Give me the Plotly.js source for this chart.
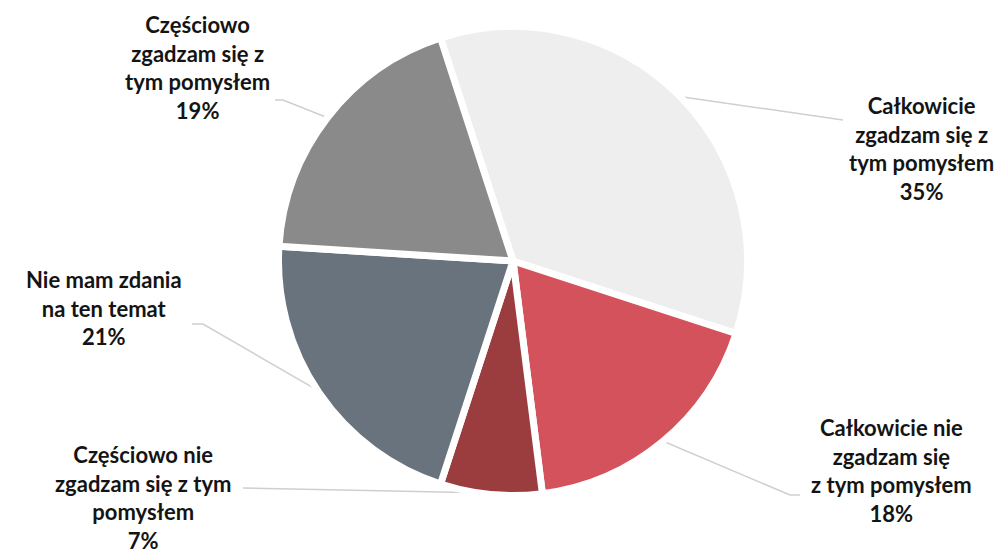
<!DOCTYPE html>
<html>
<head>
<meta charset="utf-8">
<script src="https://cdn.plot.ly/plotly-3.0.1.min.js"></script>
<style>html,body{margin:0;padding:0;background:#fff;}#chart{width:1000px;height:553px;}</style>
</head>
<body>
<div id="chart"></div>
<script>
// ---- data ----
const categories = [
  "Całkowicie zgadzam się z tym pomysłem",
  "Całkowicie nie zgadzam się z tym pomysłem",
  "Częściowo nie zgadzam się z tym pomysłem",
  "Nie mam zdania na ten temat",
  "Częściowo zgadzam się z tym pomysłem"
];
const labelLines = [
  ["Całkowicie", "zgadzam się z", "tym pomysłem"],
  ["Całkowicie nie", "zgadzam się", "z tym pomysłem"],
  ["Częściowo nie", "zgadzam się z tym", "pomysłem"],
  ["Nie mam zdania", "na ten temat"],
  ["Częściowo", "zgadzam się z", "tym pomysłem"]
];
const values = [35, 18, 7, 21, 19];
const colors = ["#EEEEEE", "#D3525B", "#9B3C3F", "#68737E", "#8A8A8A"];

// ---- layout config (pixels) ----
const W = 1000, H = 553;
const CX = 513, CY = 261, R = 234.5;     // pie geometry
const ROT = -18;                          // start angle (deg from 12 o'clock)
const LEAD_R = 233;                       // where leader lines start
// label block centers and leader-line bend points (px)
const labelPos = [[921, 148.5], [891, 470], [143, 497.5], [104, 307.5], [197, 67.5]];
const leaderPts = [
  [[843, 120]],
  [[790, 495], [800, 495]],
  [[243, 488]],
  [[203, 324], [192, 324]],
  [[283, 100], [275, 100]]
];

const px = x => x / W;
const py = y => 1 - y / H;

const total = values.reduce((a, b) => a + b, 0);
const annotations = [];
const shapes = [];
let cum = 0;
values.forEach((v, i) => {
  const mid = (ROT + (cum + v / 2) / total * 360) * Math.PI / 180;
  cum += v;
  const sx = CX + LEAD_R * Math.sin(mid), sy = CY - LEAD_R * Math.cos(mid);
  let path = `M ${px(sx)} ${py(sy)}`;
  leaderPts[i].forEach(p => { path += ` L ${px(p[0])} ${py(p[1])}`; });
  shapes.push({type: 'path', xref: 'paper', yref: 'paper', path: path,
    line: {color: '#CFCFCF', width: 1.5}, layer: 'below'});
  const pct = Math.round(v / total * 100) + '%';
  annotations.push({
    xref: 'paper', yref: 'paper', x: px(labelPos[i][0]), y: py(labelPos[i][1]),
    xanchor: 'center', yanchor: 'middle', align: 'center', showarrow: false,
    text: labelLines[i].concat([pct]).join('<br>'),
    font: {family: 'Lato, "Open Sans", sans-serif', size: 22, color: '#141414', weight: 700}
  });
});

const trace = {
  type: 'pie',
  labels: categories,
  values: values,
  sort: false,
  direction: 'clockwise',
  rotation: ROT,
  textinfo: 'none',
  hoverinfo: 'label+percent',
  marker: {colors: colors, line: {color: '#FFFFFF', width: 7}},
  domain: {x: [px(CX - R), px(CX + R)], y: [py(CY + R), py(CY - R)]},
  showlegend: false
};

const layout = {
  width: W, height: H,
  margin: {l: 0, r: 0, t: 0, b: 0},
  paper_bgcolor: '#FFFFFF',
  plot_bgcolor: '#FFFFFF',
  showlegend: false,
  annotations: annotations,
  shapes: shapes
};

Plotly.newPlot('chart', [trace], layout, {displayModeBar: false, staticPlot: true});
</script>
</body>
</html>
